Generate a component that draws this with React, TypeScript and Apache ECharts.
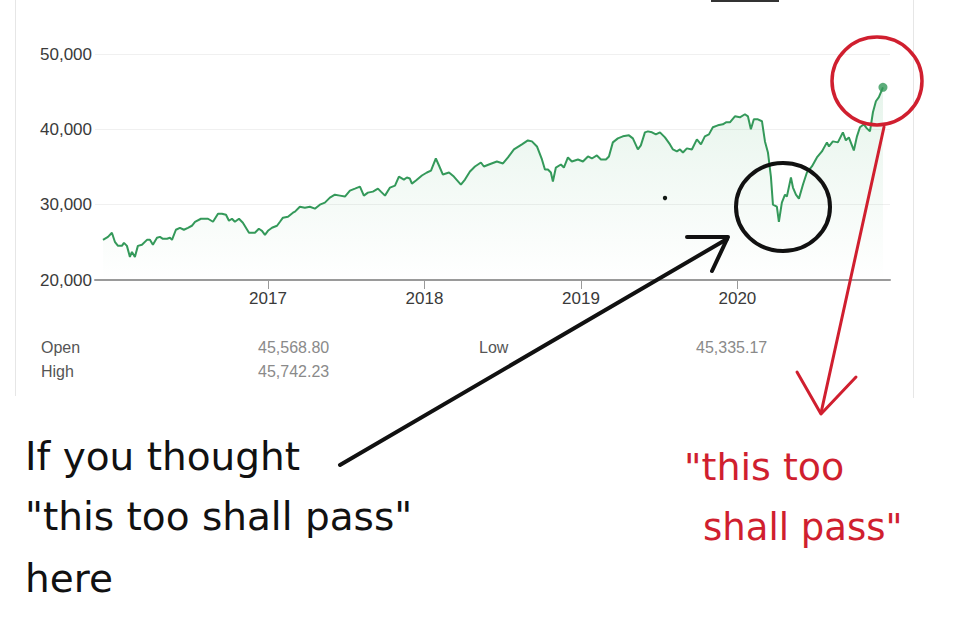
import React, { useEffect, useRef } from "react";
import * as echarts from "echarts";

// decimal years (time) of each sample
const years: number[] = [
  2015.946, 2015.978, 2016.003, 2016.022, 2016.042, 2016.067, 2016.08, 2016.099, 2016.118, 2016.131,
  2016.15, 2016.169, 2016.195, 2016.227, 2016.246, 2016.265, 2016.291, 2016.31, 2016.329, 2016.355,
  2016.374, 2016.387, 2016.412, 2016.438, 2016.463, 2016.489, 2016.514, 2016.534, 2016.572, 2016.617,
  2016.649, 2016.681, 2016.706, 2016.732, 2016.751, 2016.77, 2016.789, 2016.815, 2016.84, 2016.879,
  2016.917, 2016.942, 2016.962, 2016.981, 2017.0, 2017.026, 2017.058, 2017.077, 2017.096, 2017.128,
  2017.16, 2017.173, 2017.204, 2017.236, 2017.268, 2017.3, 2017.332, 2017.364, 2017.396, 2017.428,
  2017.46, 2017.492, 2017.524, 2017.556, 2017.588, 2017.613, 2017.639, 2017.671, 2017.703, 2017.722,
  2017.748, 2017.78, 2017.812, 2017.837, 2017.869, 2017.888, 2017.907, 2017.92, 2017.946, 2017.984,
  2018.016, 2018.042, 2018.073, 2018.093, 2018.118, 2018.157, 2018.188, 2018.233, 2018.259, 2018.291,
  2018.323, 2018.361, 2018.38, 2018.412, 2018.463, 2018.502, 2018.534, 2018.572, 2018.623, 2018.661,
  2018.687, 2018.719, 2018.751, 2018.77, 2018.789, 2018.808, 2018.821, 2018.84, 2018.872, 2018.891,
  2018.917, 2018.942, 2018.981, 2019.013, 2019.045, 2019.07, 2019.102, 2019.128, 2019.16, 2019.179,
  2019.204, 2019.236, 2019.268, 2019.307, 2019.332, 2019.364, 2019.383, 2019.409, 2019.428, 2019.454,
  2019.479, 2019.505, 2019.537, 2019.569, 2019.588, 2019.613, 2019.633, 2019.652, 2019.677, 2019.709,
  2019.741, 2019.767, 2019.792, 2019.818, 2019.843, 2019.875, 2019.907, 2019.927, 2019.952, 2019.984,
  2020.016, 2020.048, 2020.067, 2020.086, 2020.105, 2020.131, 2020.157, 2020.176, 2020.195, 2020.214,
  2020.227, 2020.252, 2020.265, 2020.284, 2020.304, 2020.316, 2020.342, 2020.355, 2020.374, 2020.393,
  2020.419, 2020.444, 2020.476, 2020.508, 2020.54, 2020.572, 2020.585, 2020.61, 2020.642, 2020.674,
  2020.693, 2020.712, 2020.744, 2020.764, 2020.783, 2020.808, 2020.827, 2020.847, 2020.866, 2020.885,
  2020.904, 2020.93,
];

// index level at each sample
const values: number[] = [
  25330, 25730, 26270, 25070, 24530, 24530, 24930, 24530, 23070, 23730,
  23070, 24530, 24670, 25330, 25330, 24670, 25600, 25730, 25470, 25470,
  25600, 25330, 26670, 26930, 26670, 26930, 27200, 27730, 28130, 28130,
  27730, 28800, 28800, 28670, 27870, 28130, 27730, 28130, 27600, 26270,
  26270, 26800, 26530, 26000, 26530, 26930, 27200, 27730, 28270, 28400,
  28930, 29070, 29730, 29600, 29730, 29470, 30000, 30270, 30930, 31330,
  31200, 31070, 31870, 32130, 32400, 31200, 31600, 31730, 32130, 31730,
  31200, 32270, 32530, 33730, 33330, 33600, 33470, 32800, 33200, 33870,
  34270, 34530, 36130, 35200, 34000, 34270, 33730, 32670, 33330, 34400,
  35070, 35600, 35070, 35330, 35730, 35470, 36270, 37330, 38000, 38530,
  38400, 37730, 36000, 34670, 34670, 34270, 33070, 34930, 35330, 34930,
  36270, 35730, 36000, 35730, 36400, 36130, 36530, 36000, 36000, 36400,
  38270, 38800, 39070, 39200, 38800, 37330, 37870, 39600, 39730, 39600,
  39330, 39600, 38930, 38000, 37330, 37070, 37330, 36930, 37470, 37330,
  38670, 38000, 39070, 39330, 40270, 40530, 40670, 40930, 40930, 41730,
  41600, 42000, 41730, 40000, 41330, 41330, 41070, 38400, 36930, 33730,
  30000, 29730, 27730, 30270, 31330, 31070, 33600, 32270, 31330, 30800,
  32670, 34270, 35070, 36270, 37070, 38270, 37730, 38400, 38270, 39600,
  38530, 38930, 37200, 39070, 40270, 40670, 40130, 39730, 42270, 43730,
  44270, 45570,
];

const yearTicks: number[] = [2017, 2018, 2019, 2020];

const statLabels: string[] = ["Open", "High", "Low"];
const statValues: string[] = ["45,568.80", "45,742.23", "45,335.17"];

const blackNote: string[] = ["If you thought", "\"this too shall pass\"", "here"];
const redNote: string[] = ["\"this too", "shall pass\""];

const GREEN = "#34995a";
const RED = "#d01f2f";
const HAND = "'DejaVu Sans', 'Open Sans', sans-serif";
const UI = "'Liberation Sans', Arial, sans-serif";

export default function App() {
  const ref = useRef<HTMLDivElement>(null);

  useEffect(() => {
    if (!ref.current) return;
    const chart = echarts.init(ref.current, null, { renderer: "svg" });
    const seriesData = years.map((y, i) => [y, values[i]]);
    const last = seriesData[seriesData.length - 1];

    const statText = (x: number, y: number, t: string, c: string) => ({
      type: "text",
      x,
      y,
      style: {
        text: t,
        fill: c,
        font: `16px ${UI}`,
        textVerticalAlign: "middle",
      },
    });

    const handText = (x: number, y: number, t: string, c: string, size: number) => ({
      type: "text",
      x,
      y,
      style: {
        text: t,
        fill: c,
        font: `${size}px ${HAND}`,
        textVerticalAlign: "middle",
      },
    });

    chart.setOption({
      animation: false,
      backgroundColor: "#ffffff",
      grid: { left: 95, right: 73, top: 54, bottom: 361 },
      xAxis: {
        type: "value",
        min: 2015.895,
        max: 2020.975,
        splitLine: { show: false },
        axisLine: { show: true, lineStyle: { color: "#9a9a9a", width: 2 } },
        axisTick: {
          show: true,
          length: 9,
          lineStyle: { color: "#9a9a9a", width: 1 },
          customValues: yearTicks,
        },
        axisLabel: {
          customValues: yearTicks,
          color: "#3a3a3a",
          fontSize: 17,
          margin: 10,
          fontFamily: UI,
          formatter: (v: number) => String(Math.round(v)),
        },
      },
      yAxis: {
        type: "value",
        min: 20000,
        max: 50000,
        interval: 10000,
        axisLine: { show: false },
        axisTick: { show: false },
        splitLine: { show: true, lineStyle: { color: "#f0f0f0", width: 1 } },
        axisLabel: {
          color: "#3a3a3a",
          fontSize: 17,
          margin: 3,
          fontFamily: UI,
          formatter: (v: number) => v.toLocaleString("en-US"),
        },
      },
      series: [
        {
          type: "line",
          data: seriesData,
          showSymbol: false,
          lineStyle: { color: GREEN, width: 2 },
          areaStyle: {
            origin: "start",
            color: new echarts.graphic.LinearGradient(0, 0, 0, 1, [
              { offset: 0, color: "rgba(60,170,100,0.18)" },
              { offset: 1, color: "rgba(60,170,100,0)" },
            ]),
          },
          z: 2,
        },
        {
          type: "scatter",
          data: [last],
          symbolSize: 9,
          itemStyle: { color: GREEN },
          z: 3,
        },
      ],
      graphic: [
        // panel borders and tab underline
        { type: "line", shape: { x1: 15.5, y1: 0, x2: 15.5, y2: 396 }, style: { stroke: "#e6e6e6", lineWidth: 1 } },
        { type: "line", shape: { x1: 913.5, y1: 0, x2: 913.5, y2: 398 }, style: { stroke: "#e6e6e6", lineWidth: 1 } },
        { type: "rect", shape: { x: 711, y: 0, width: 68, height: 2 }, style: { fill: "#333" } },
        // stats
        statText(41, 347, statLabels[0], "#555"),
        statText(258, 347, statValues[0], "#8a8a8a"),
        statText(41, 371, statLabels[1], "#555"),
        statText(258, 371, statValues[1], "#8a8a8a"),
        statText(479, 347, statLabels[2], "#555"),
        statText(696, 347, statValues[2], "#8a8a8a"),
        // small dot
        { type: "circle", shape: { cx: 665, cy: 198, r: 2.2 }, style: { fill: "#111" } },
        // black circle & arrow
        { type: "ellipse", shape: { cx: 783, cy: 207, rx: 47, ry: 44 }, style: { fill: "none", stroke: "#111", lineWidth: 4 }, z: 10 },
        { type: "line", shape: { x1: 340, y1: 465, x2: 727, y2: 239 }, style: { stroke: "#111", lineWidth: 4, lineCap: "round" }, z: 10 },
        { type: "polyline", shape: { points: [[687, 237], [728, 237], [712, 271]] }, style: { fill: "none", stroke: "#111", lineWidth: 4, lineCap: "round", lineJoin: "round" }, z: 10 },
        // red circle & arrow
        { type: "ellipse", shape: { cx: 877, cy: 81, rx: 45, ry: 44 }, style: { fill: "none", stroke: RED, lineWidth: 3.5 }, z: 10 },
        { type: "line", shape: { x1: 884, y1: 127, x2: 821, y2: 413 }, style: { stroke: RED, lineWidth: 3, lineCap: "round" }, z: 10 },
        { type: "polyline", shape: { points: [[797, 372], [821, 414], [856, 377]] }, style: { fill: "none", stroke: RED, lineWidth: 3, lineCap: "round", lineJoin: "round" }, z: 10 },
        // handwritten notes
        handText(25, 456, blackNote[0], "#111", 39),
        handText(25, 516, blackNote[1], "#111", 39),
        handText(25, 578, blackNote[2], "#111", 39),
        handText(684, 467, redNote[0], RED, 38),
        handText(703, 527, redNote[1], RED, 37),
      ],
    });

    return () => chart.dispose();
  }, []);

  return (
    <div
      ref={ref}
      style={{ position: "fixed", left: 0, top: 0, width: 963, height: 641, background: "#fff" }}
    />
  );
}
